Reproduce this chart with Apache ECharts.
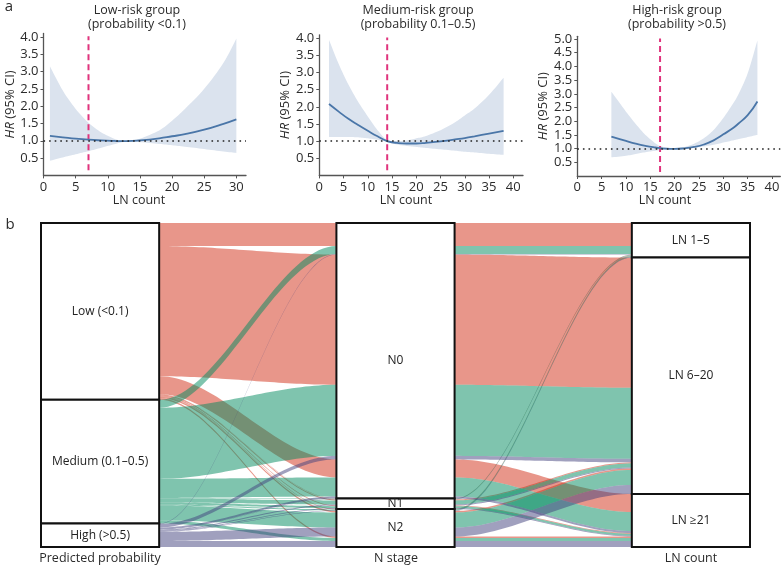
<!DOCTYPE html>
<html lang="en">
<head>
<meta charset="UTF-8">
<title>LN count by risk group</title>
<script src="https://cdn.jsdelivr.net/npm/echarts@6.0.0/dist/echarts.min.js"></script>
<style>
  html, body { margin: 0; padding: 0; background: #fff; }
  #main { width: 784px; height: 571px; }
</style>
</head>
<body>
<div id="main"></div>
<script>
// ---- panel a: HR (95% CI) against LN count ----
const lowX = [1, 3, 5, 7, 9, 11, 12, 13, 15, 18, 20, 22, 25, 28, 30];
const lowHR = [1.14, 1.10, 1.06, 1.03, 1.01, 0.995, 0.99, 0.99, 1.01, 1.07, 1.13, 1.19, 1.32, 1.49, 1.62];
const lowUpper = [3.15, 2.45, 1.92, 1.52, 1.24, 1.06, 1.01, 1.0, 1.06, 1.3, 1.58, 1.92, 2.5, 3.25, 3.95];
const lowLower = [0.42, 0.52, 0.61, 0.70, 0.80, 0.90, 0.95, 0.97, 0.96, 0.91, 0.87, 0.83, 0.76, 0.69, 0.65];

const midX = [2, 4, 6, 8, 10, 12, 14, 16, 18, 20, 22, 25, 28, 30, 32, 35, 38];
const midHR = [2.08, 1.86, 1.65, 1.47, 1.30, 1.14, 1.00, 0.95, 0.93, 0.93, 0.95, 0.99, 1.05, 1.09, 1.14, 1.22, 1.30];
const midUpper = [3.95, 3.25, 2.65, 2.15, 1.72, 1.32, 1.03, 1.00, 1.02, 1.08, 1.15, 1.32, 1.55, 1.75, 1.95, 2.35, 2.85];
const midLower = [1.12, 1.12, 1.12, 1.11, 1.08, 1.04, 0.97, 0.90, 0.86, 0.83, 0.80, 0.76, 0.72, 0.69, 0.67, 0.63, 0.60];

const highX = [7, 10, 12, 14, 16, 17, 18, 20, 22, 24, 26, 28, 30, 32, 33, 35, 37];
const highHR = [1.44, 1.28, 1.18, 1.10, 1.04, 1.02, 1.0, 0.99, 1.01, 1.06, 1.15, 1.30, 1.52, 1.75, 1.90, 2.22, 2.72];
const highUpper = [3.08, 2.35, 1.9, 1.5, 1.2, 1.1, 1.05, 1.02, 1.06, 1.18, 1.38, 1.68, 2.12, 2.65, 2.95, 3.75, 4.95];
const highLower = [0.68, 0.74, 0.8, 0.87, 0.92, 0.94, 0.96, 0.97, 0.99, 1.03, 1.08, 1.14, 1.22, 1.30, 1.34, 1.42, 1.50];

const panelTitles = [
    ['Low-risk group', '(probability <0.1)'],
    ['Medium-risk group', '(probability 0.1–0.5)'],
    ['High-risk group', '(probability >0.5)']
];
const cutoffs = [7, 14, 17];
const xTicks = [[0, 5, 10, 15, 20, 25, 30], [0, 5, 10, 15, 20, 25, 30, 35, 40], [0, 5, 10, 15, 20, 25, 30, 35, 40]];
const yTicks = [
    [0.5, 1.0, 1.5, 2.0, 2.5, 3.0, 3.5, 4.0],
    [0.5, 1.0, 1.5, 2.0, 2.5, 3.0, 3.5, 4.0],
    [0.5, 1.0, 1.5, 2.0, 2.5, 3.0, 3.5, 4.0, 4.5, 5.0]
];

// ---- panel b: alluvial plot ----
const probLabels = ['Low (<0.1)', 'Medium (0.1–0.5)', 'High (>0.5)'];
const nLabels = ['N0', 'N1', 'N2'];
const lnLabels = ['LN 1–5', 'LN 6–20', 'LN ≥21'];
const axisTitles = ['Predicted probability', 'N stage', 'LN count'];
// patients: rows = N0, N1, N2; columns = LN 1-5, LN 6-20, LN >=21
const lowRisk = [[230, 1300, 180], [3, 10, 7], [5, 15, 15]];
const mediumRisk = [[80, 710, 190], [5, 40, 20], [10, 150, 30]];
const highRisk = [[5, 35, 20], [2, 10, 8], [5, 90, 60]];

const FONT = '"Open Sans", "Noto Sans", sans-serif';
const TEXT = '#2b2b2b';

const panels = [
    { left: 43.5, top: 33.4, width: 202.5, height: 142, xMax: 31.5, yMax: 4.1, titleX: 137, nameX: 139 },
    { left: 319.3, top: 34.8, width: 203.7, height: 140.6, xMax: 42, yMax: 4.1, titleX: 418, nameX: 406 },
    { left: 577.3, top: 36.3, width: 203, height: 139.7, xMax: 41.7, yMax: 5.1, titleX: 677, nameX: 665 }
];
const curves = [
    [lowX, lowHR, lowUpper, lowLower],
    [midX, midHR, midUpper, midLower],
    [highX, highHR, highUpper, highLower]
];

// smooth a pixel polyline (Catmull-Rom), used only for drawing the CI band outline
function spline(pts, seg) {
    const out = [];
    const n = pts.length;
    for (let i = 0; i < n - 1; i++) {
        const p0 = pts[Math.max(i - 1, 0)], p1 = pts[i], p2 = pts[i + 1], p3 = pts[Math.min(i + 2, n - 1)];
        for (let s = 0; s < seg; s++) {
            const t = s / seg, t2 = t * t, t3 = t2 * t;
            out.push([0, 1].map(d => 0.5 * (2 * p1[d] + (-p0[d] + p2[d]) * t +
                (2 * p0[d] - 5 * p1[d] + 4 * p2[d] - p3[d]) * t2 +
                (-p0[d] + 3 * p1[d] - 3 * p2[d] + p3[d]) * t3)));
        }
    }
    out.push(pts[n - 1]);
    return out;
}

const grid = [], xAxis = [], yAxis = [], series = [], graphic = [];

panels.forEach((p, i) => {
    grid.push({ left: p.left, top: p.top, width: p.width, height: p.height });
    xAxis.push({
        type: 'value', gridIndex: i, min: 0, max: p.xMax,
        axisLine: { lineStyle: { color: '#555', width: 1.3 } },
        axisTick: { length: 3, customValues: xTicks[i], lineStyle: { color: '#555' } },
        axisLabel: { customValues: xTicks[i], margin: 5, fontSize: 13, color: TEXT, fontFamily: FONT },
        splitLine: { show: false }
    });
    yAxis.push({
        type: 'value', gridIndex: i, min: 0, max: p.yMax,
        name: '{i|HR} (95% CI)', nameLocation: 'middle', nameGap: 18,
        nameTextStyle: {
            fontSize: 13, color: TEXT, fontFamily: FONT,
            rich: { i: { fontStyle: 'italic', fontSize: 13, color: TEXT, fontFamily: FONT } }
        },
        axisLine: { show: true, lineStyle: { color: '#555', width: 1.3 } },
        axisTick: { show: true, length: 3, customValues: yTicks[i], lineStyle: { color: '#555' } },
        axisLabel: { customValues: yTicks[i], margin: 5, fontSize: 13, color: TEXT, fontFamily: FONT,
            formatter: v => v.toFixed(1) },
        splitLine: { show: false }
    });

    const [xs, hr, up, lo] = curves[i];
    // confidence band as one polygon: upper bound forward, lower bound back
    series.push({
        type: 'custom', xAxisIndex: i, yAxisIndex: i, silent: true, clip: false,
        data: xs.map((x, k) => [x, up[k], lo[k]]),
        renderItem: function (params, api) {
            if (params.dataIndex !== 0) return null;
            const upper = xs.map((x, k) => api.coord([x, up[k]]));
            const lower = xs.map((x, k) => api.coord([x, lo[k]]));
            const pts = spline(upper, 8).concat(spline(lower, 8).reverse());
            return { type: 'polygon', shape: { points: pts }, style: { fill: '#dbe3ee' } };
        }
    });
    series.push({
        type: 'line', xAxisIndex: i, yAxisIndex: i, symbol: 'none', silent: true,
        lineStyle: { color: '#e0337c', width: 2, type: [6, 4] },
        data: [[cutoffs[i], 0.15], [cutoffs[i], p.yMax - 0.08]],
        markLine: {
            silent: true, symbol: 'none', label: { show: false },
            lineStyle: { color: '#222', width: 1.6, type: [1.6, 4] },
            data: [{ yAxis: 1 }]
        }
    });
    series.push({
        type: 'line', xAxisIndex: i, yAxisIndex: i, smooth: true, symbol: 'none', silent: true,
        lineStyle: { color: '#4a76a8', width: 1.8 },
        data: xs.map((x, k) => [x, hr[k]])
    });

    graphic.push(
        { type: 'text', style: { text: panelTitles[i][0], x: p.titleX, y: 10, align: 'center', verticalAlign: 'middle', textAlign: 'center', textVerticalAlign: 'middle', font: '12.5px ' + FONT, fill: TEXT } },
        { type: 'text', style: { text: panelTitles[i][1], x: p.titleX, y: 24.5, align: 'center', verticalAlign: 'middle', textAlign: 'center', textVerticalAlign: 'middle', font: '12.5px ' + FONT, fill: TEXT } },
        { type: 'text', style: { text: 'LN count', x: p.nameX, y: 200, align: 'center', verticalAlign: 'middle', textAlign: 'center', textVerticalAlign: 'middle', font: '12.5px ' + FONT, fill: TEXT } }
    );
});

// alluvia: one per (probability group, N stage, LN group)
const alluvia = [];
[lowRisk, mediumRisk, highRisk].forEach((tab, pg) => {
    tab.forEach((row, n) => {
        row.forEach((v, l) => alluvia.push({ key: [pg, n, l], v: v }));
    });
});
const total = alluvia.reduce((s, a) => s + a.v, 0);

// lode order inside each stratum, per axis
const orders = [[0, 1, 2], [1, 2, 0], [2, 1, 0]];
const pos = alluvia.map(() => []);
orders.forEach((ord, ax) => {
    const idx = alluvia.map((a, i) => i).sort((i, j) => {
        for (const k of ord) {
            const d = alluvia[i].key[k] - alluvia[j].key[k];
            if (d) return d;
        }
        return 0;
    });
    let acc = 0;
    idx.forEach(i => { pos[i][ax] = acc; acc += alluvia[i].v; });
});

const ribbonData = [];
alluvia.forEach((a, i) => {
    for (let ax = 0; ax < 2; ax++) {
        ribbonData.push([5 * ax + 2, 5 * (ax + 1), pos[i][ax], pos[i][ax + 1], a.v, a.key[0]]);
    }
});

const stratumData = [], stratumNames = [];
[probLabels, nLabels, lnLabels].forEach((labels, ax) => {
    let acc = 0;
    labels.forEach((name, s) => {
        const size = alluvia.filter(a => a.key[ax] === s).reduce((t, a) => t + a.v, 0);
        stratumData.push([5 * ax, 5 * ax + 2, acc, acc + size]);
        stratumNames.push(name);
        acc += size;
    });
});

const ribbonColors = ['rgba(209,45,21,0.5)', 'rgba(0,137,93,0.5)', 'rgba(65,65,125,0.5)'];

grid.push({ left: 41, right: 34, top: 223, bottom: 24 });
xAxis.push({ type: 'value', gridIndex: 3, min: 0, max: 12, show: false });
yAxis.push({ type: 'value', gridIndex: 3, min: 0, max: total, inverse: true, show: false });

series.push({
    type: 'custom', xAxisIndex: 3, yAxisIndex: 3, silent: true, clip: false,
    data: ribbonData,
    renderItem: function (params, api) {
        const x0 = api.value(0), x1 = api.value(1);
        const ya = api.value(2), yb = api.value(3), w = api.value(4);
        const top = [], bottom = [];
        const steps = 40;
        for (let k = 0; k <= steps; k++) {
            const t = k / steps;
            const s = t * t * (3 - 2 * t);
            const x = x0 + (x1 - x0) * t;
            top.push(api.coord([x, ya + (yb - ya) * s]));
            bottom.push(api.coord([x, ya + w + (yb - ya) * s]));
        }
        return {
            type: 'polygon',
            shape: { points: top.concat(bottom.reverse()) },
            style: { fill: ribbonColors[api.value(5)] }
        };
    }
});

series.push({
    type: 'custom', xAxisIndex: 3, yAxisIndex: 3, silent: true, clip: false, z: 5,
    data: stratumData,
    renderItem: function (params, api) {
        const a = api.coord([api.value(0), api.value(2)]);
        const b = api.coord([api.value(1), api.value(3)]);
        return {
            type: 'group',
            children: [
                { type: 'rect', shape: { x: a[0], y: a[1], width: b[0] - a[0], height: b[1] - a[1] },
                  style: { fill: '#fff', stroke: '#111', lineWidth: 2 } },
                { type: 'text', style: { text: stratumNames[params.dataIndex], x: (a[0] + b[0]) / 2, y: (a[1] + b[1]) / 2,
                  align: 'center', verticalAlign: 'middle', textAlign: 'center', textVerticalAlign: 'middle',
                  font: '12px ' + FONT, fill: '#222' } }
            ]
        };
    }
});

const titleX = [100, 396, 691];
axisTitles.forEach((t, k) => {
    graphic.push({ type: 'text', style: { text: t, x: titleX[k], y: 558, align: 'center', verticalAlign: 'middle', textAlign: 'center', textVerticalAlign: 'middle', font: '12.5px ' + FONT, fill: TEXT } });
});
graphic.push(
    { type: 'text', style: { text: 'a', x: 9, y: 7, align: 'center', verticalAlign: 'middle', textAlign: 'center', textVerticalAlign: 'middle', font: '15px ' + FONT, fill: TEXT } },
    { type: 'text', style: { text: 'b', x: 10, y: 225, align: 'center', verticalAlign: 'middle', textAlign: 'center', textVerticalAlign: 'middle', font: '15px ' + FONT, fill: TEXT } }
);

const chart = echarts.init(document.getElementById('main'));
chart.setOption({
    animation: false,
    backgroundColor: '#fff',
    grid: grid,
    xAxis: xAxis,
    yAxis: yAxis,
    series: series,
    graphic: graphic
});
</script>
</body>
</html>
